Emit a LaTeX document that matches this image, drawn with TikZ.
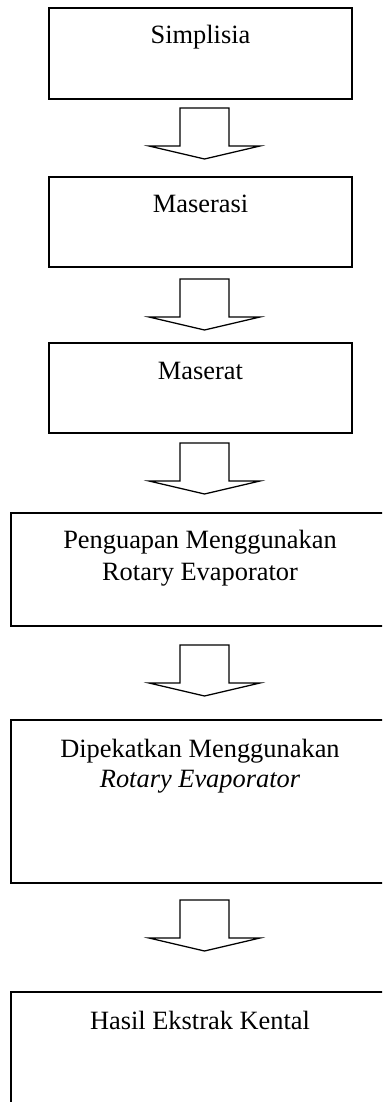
\documentclass[tikz,border=0pt]{standalone}
\usepackage{fontspec}
\setmainfont{Liberation Serif}
\usetikzlibrary{fit}

\tikzset{
  stage/.style={draw=black, line width=1.5pt, inner sep=0pt, fill=none},
  lbl/.style={inner sep=0pt, anchor=base, font=\fontsize{19.8}{23.5}\selectfont},
  flowarrow/.style={draw=black, line width=0.95pt, line join=miter},
  pics/downarrow/.style={code={
    \draw[flowarrow] (-24.5,0) -- (24.5,0) -- (24.5,38) -- (55.5,38)
      -- (0,51) -- (-55.5,38) -- (-24.5,38) -- cycle;
  }}
}

\begin{document}
\begin{tikzpicture}[x=0.75pt, y=-0.75pt]
  \useasboundingbox (0,0) rectangle (382,1102);
  \clip (0,0) rectangle (382,1102);
  \fill[white] (0,0) rectangle (382,1102);

  % stage boxes (corner points)
  \coordinate (c1a) at (49,8);    \coordinate (c1b) at (352,99);
  \coordinate (c2a) at (49,177);  \coordinate (c2b) at (352,267);
  \coordinate (c3a) at (49,343);  \coordinate (c3b) at (352,433);
  \coordinate (c4a) at (11,513);  \coordinate (c4b) at (389,626);
  \coordinate (c5a) at (11,720);  \coordinate (c5b) at (389,883);
  \coordinate (c6a) at (11,992);  \coordinate (c6b) at (389,1140);

  \node[stage, fit=(c1a)(c1b)] (b1) {};
  \node[stage, fit=(c2a)(c2b)] (b2) {};
  \node[stage, fit=(c3a)(c3b)] (b3) {};
  \node[stage, fit=(c4a)(c4b)] (b4) {};
  \node[stage, fit=(c5a)(c5b)] (b5) {};
  \node[stage, fit=(c6a)(c6b)] (b6) {};

  % labels
  \node[lbl] (t1) at (200.5,44) {Simplisia};
  \node[lbl] (t2) at (200.5,212) {Maserasi};
  \node[lbl] (t3) at (200.5,379) {Maserat};
  \node[lbl] (t4a) at (200,548) {Penguapan Menggunakan};
  \node[lbl] (t4b) at (200,580) {Rotary Evaporator};
  \node[lbl] (t5a) at (200,757) {Dipekatkan Menggunakan};
  \node[lbl] (t5b) at (200,787) {\itshape Rotary Evaporator};
  \node[lbl] (t6) at (200,1029) {Hasil Ekstrak Kental};

  % block arrows between the stages
  \pic at (204.5,108) {downarrow};
  \pic at (204.5,279) {downarrow};
  \pic at (204.5,443) {downarrow};
  \pic at (204.5,645) {downarrow};
  \pic at (204.5,900) {downarrow};
\end{tikzpicture}
\end{document}
